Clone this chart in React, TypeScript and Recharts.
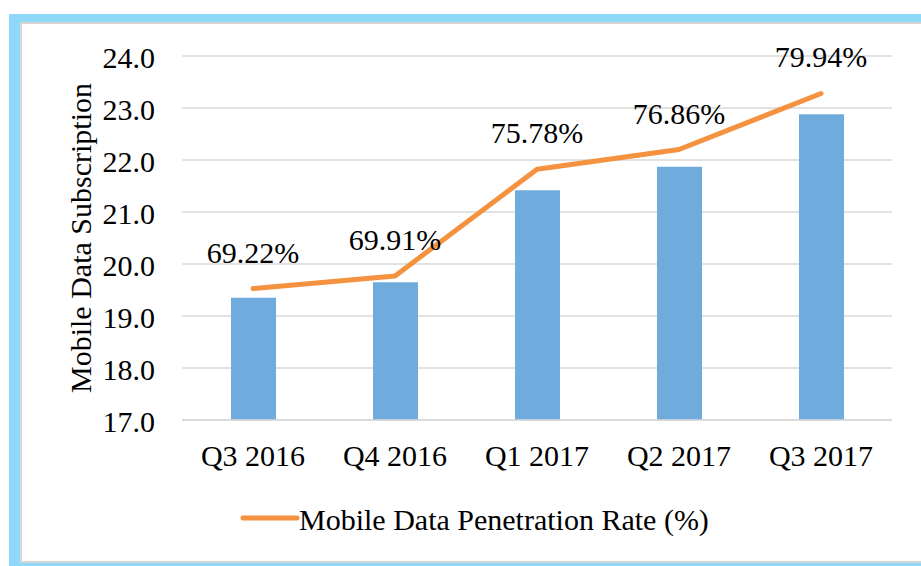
import React from 'react';
import {
  ComposedChart,
  Bar,
  Line,
  XAxis,
  YAxis,
  CartesianGrid,
  Legend,
  LabelList,
} from 'recharts';

const categories = ['Q3 2016', 'Q4 2016', 'Q1 2017', 'Q2 2017', 'Q3 2017'];
const subscriptions = [19.35, 19.65, 21.42, 21.87, 22.88];
const penetrationRates = [69.22, 69.91, 75.78, 76.86, 79.94];
const leftTicks = [17, 18, 19, 20, 21, 22, 23, 24];
const rightDomain: [number, number] = [62, 82];
const lineName = 'Mobile Data Penetration Rate (%)';
const yLabel = 'Mobile Data Subscription';

const data = categories.map((c, i) => ({
  category: c,
  subscription: subscriptions[i],
  rate: penetrationRates[i],
}));

const FONT = '"Liberation Serif", "Times New Roman", serif';
const BAR_COLOR = '#6FABDC';
const LINE_COLOR = '#F4923F';
const GRID_COLOR = '#D9D9D9';

const renderLegend = () => (
  <svg width={520} height={50} style={{ display: 'block' }}>
    <line x1={13} y1={23} x2={67} y2={23} stroke={LINE_COLOR} strokeWidth={5} strokeLinecap="round" />
    <text x={69} y={35} style={{ fontFamily: FONT }} fontSize={30} fill="#000">
      {lineName}
    </text>
  </svg>
);

const renderYLabel = (props: any) => {
  const vb = props && props.viewBox ? props.viewBox : { x: 82, y: 56, width: 100, height: 364 };
  const cx = vb.x + vb.width - 101.5;
  const cy = vb.y + vb.height / 2;
  return (
    <text
      x={cx}
      y={cy}
      transform={`rotate(-90, ${cx}, ${cy})`}
      textAnchor="middle"
      dy="0.355em"
      style={{ fontFamily: FONT }}
      fontSize={30}
      fill="#000"
    >
      {yLabel}
    </text>
  );
};

const YTick = (props: any) => {
  const { x, y, payload } = props;
  return (
    <text x={x} y={y} dy={12} textAnchor="end" style={{ fontFamily: FONT }} fontSize={30} fill="#000">
      {Number(payload.value).toFixed(1)}
    </text>
  );
};

const XTick = (props: any) => {
  const { x, y, payload } = props;
  return (
    <text x={x} y={y} dy={21} textAnchor="middle" style={{ fontFamily: FONT }} fontSize={30} fill="#000">
      {payload.value}
    </text>
  );
};

const RateLabel = (props: any) => {
  const { x, y, value } = props;
  const w = Number(props.width) || 0;
  return (
    <text
      x={Number(x) + w / 2}
      y={Number(y) - 26}
      textAnchor="middle"
      style={{ fontFamily: FONT }}
      fontSize={30}
      fill="#000"
    >
      {`${Number(value).toFixed(2)}%`}
    </text>
  );
};

export default function App() {
  return (
    <div
      style={{
        position: 'absolute',
        left: 0,
        top: 0,
        width: 921,
        height: 566,
        background: '#fff',
        overflow: 'hidden',
        fontFamily: FONT,
      }}
    >
      <div style={{ position: 'absolute', left: 9, top: 14, right: 0, bottom: 0, background: '#8ED8F8' }} />
      <div
        style={{
          position: 'absolute',
          left: 20,
          top: 22,
          width: 905,
          height: 537,
          background: '#fff',
          borderLeft: '2px solid #D6D6D6',
          borderTop: '2px solid #D6D6D6',
          borderBottom: '2px solid #D6D6D6',
        }}
      />
      <div style={{ position: 'absolute', left: 0, top: 0 }}>
        <ComposedChart
          width={921}
          height={566}
          data={data}
          margin={{ top: 56, right: 29, bottom: 116, left: 82 }}
        >
          <CartesianGrid vertical={false} stroke={GRID_COLOR} strokeWidth={1.5} yAxisId="left" />
          <XAxis
            dataKey="category"
            height={30}
            tickLine={false}
            axisLine={{ stroke: GRID_COLOR, strokeWidth: 1.5 }}
            tickSize={0}
            tickMargin={25}
            interval={0}
            tick={<XTick />}
          />
          <YAxis
            yAxisId="left"
            width={100}
            domain={[17, 24]}
            ticks={leftTicks}
            allowDataOverflow
            tickLine={false}
            axisLine={false}
            tickSize={0}
            tickMargin={27}
            tick={<YTick />}
            label={renderYLabel}
          />
          <YAxis yAxisId="right" orientation="right" domain={rightDomain} hide />
          <Bar
            yAxisId="left"
            dataKey="subscription"
            fill={BAR_COLOR}
            barSize={45}
            isAnimationActive={false}
            legendType="none"
          />
          <Line
            yAxisId="right"
            type="linear"
            dataKey="rate"
            name={lineName}
            stroke={LINE_COLOR}
            strokeWidth={5}
            strokeLinecap="round"
            strokeLinejoin="round"
            dot={false}
            activeDot={false}
            isAnimationActive={false}
          >
            <LabelList dataKey="rate" content={<RateLabel />} />
          </Line>
          <Legend
            layout="horizontal"
            verticalAlign="middle"
            align="center"
            content={renderLegend}
            wrapperStyle={{ position: 'absolute', top: 495, left: 230, width: 520, height: 50 }}
          />
        </ComposedChart>
      </div>
    </div>
  );
}
